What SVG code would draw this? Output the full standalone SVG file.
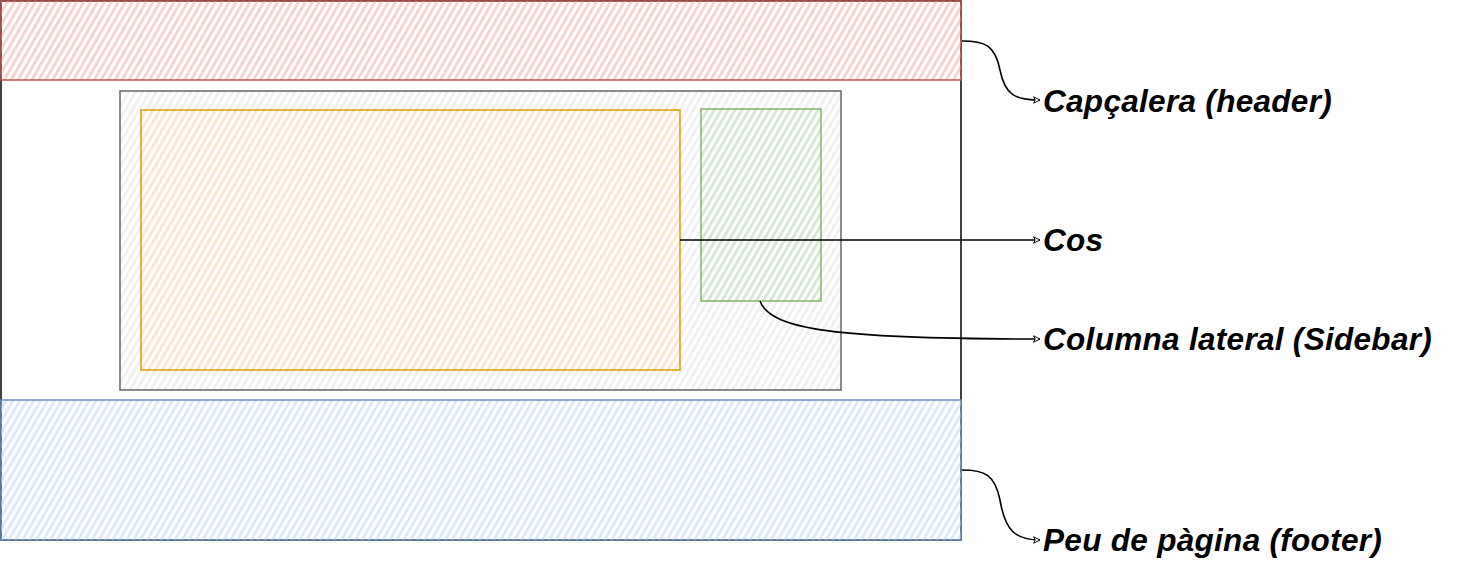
<svg xmlns="http://www.w3.org/2000/svg" width="1482" height="562" viewBox="0 0 1482 562">
<style>
.lbl{font-family:"Comic Sans MS","Liberation Sans",sans-serif;font-weight:bold;font-style:italic;font-size:31.5px;letter-spacing:0.3px;fill:#000}
.conn{fill:none;stroke:#000;stroke-width:1.6}
</style>
<defs>
<pattern id="hR" width="6" height="6" patternUnits="userSpaceOnUse" patternTransform="rotate(30)"><line x1="1.5" y1="0" x2="1.5" y2="6" stroke="#f8cecc" stroke-width="2.6"/></pattern>
<pattern id="hB" width="6" height="6" patternUnits="userSpaceOnUse" patternTransform="rotate(30)"><line x1="1.5" y1="0" x2="1.5" y2="6" stroke="#dae8fc" stroke-width="2.6"/></pattern>
<pattern id="hG" width="6" height="6" patternUnits="userSpaceOnUse" patternTransform="rotate(30)"><line x1="1.5" y1="0" x2="1.5" y2="6" stroke="#d5e8d4" stroke-width="2.6"/></pattern>
<pattern id="hO" width="6" height="6" patternUnits="userSpaceOnUse" patternTransform="rotate(30)"><line x1="1.5" y1="0" x2="1.5" y2="6" stroke="#ffe6cc" stroke-width="2.6"/></pattern>
<pattern id="hS" width="6" height="6" patternUnits="userSpaceOnUse" patternTransform="rotate(30)"><line x1="1.5" y1="0" x2="1.5" y2="6" stroke="#f0f0f0" stroke-width="2.6"/></pattern>
<marker id="arr" viewBox="0 0 10 10" refX="9" refY="5" markerWidth="8" markerHeight="8" orient="auto" markerUnits="userSpaceOnUse"><path d="M1,1 L9,5 L1,9 L3,5 Z" fill="#fff" stroke="#000" stroke-width="1.2"/></marker>
</defs>
<g id="page"><rect x="1" y="1" width="960" height="539" fill="#fff" stroke="#000" stroke-width="1.5"/></g>
<g id="header"><rect x="1" y="1" width="960" height="79" fill="url(#hR)" stroke="#b85450" stroke-width="1.5"/></g>
<g id="footer"><rect x="1" y="400" width="960" height="140" fill="url(#hB)" stroke="#6c8ebf" stroke-width="1.5"/></g>
<g id="container"><rect x="120" y="91" width="721" height="299" fill="url(#hS)" stroke="#666" stroke-width="1.5"/></g>
<g id="body"><rect x="141" y="110" width="539" height="260" fill="url(#hO)" stroke="#d79b00" stroke-width="1.5"/></g>
<g id="sidebar"><rect x="701" y="109" width="120" height="192" fill="url(#hG)" stroke="#82b366" stroke-width="1.5"/></g>
<g id="connectors">
<path class="conn" d="M962,41 C985,41 995,45 1000,70 C1005,95 1015,100 1040,100" marker-end="url(#arr)"/>
<path class="conn" d="M680,240 L1040,240" marker-end="url(#arr)"/>
<path class="conn" d="M760,301 C770,330 840,339 1040,339" marker-end="url(#arr)"/>
<path class="conn" d="M962,470 C985,470 995,475 1000,500 C1005,530 1015,540 1040,540" marker-end="url(#arr)"/>
</g>
<g id="labels">
<text class="lbl" x="1043" y="112">Capçalera (header)</text>
<text class="lbl" x="1043" y="251">Cos</text>
<text class="lbl" x="1043" y="350">Columna lateral (Sidebar)</text>
<text class="lbl" x="1043" y="551">Peu de pàgina (footer)</text>
</g>
</svg>
